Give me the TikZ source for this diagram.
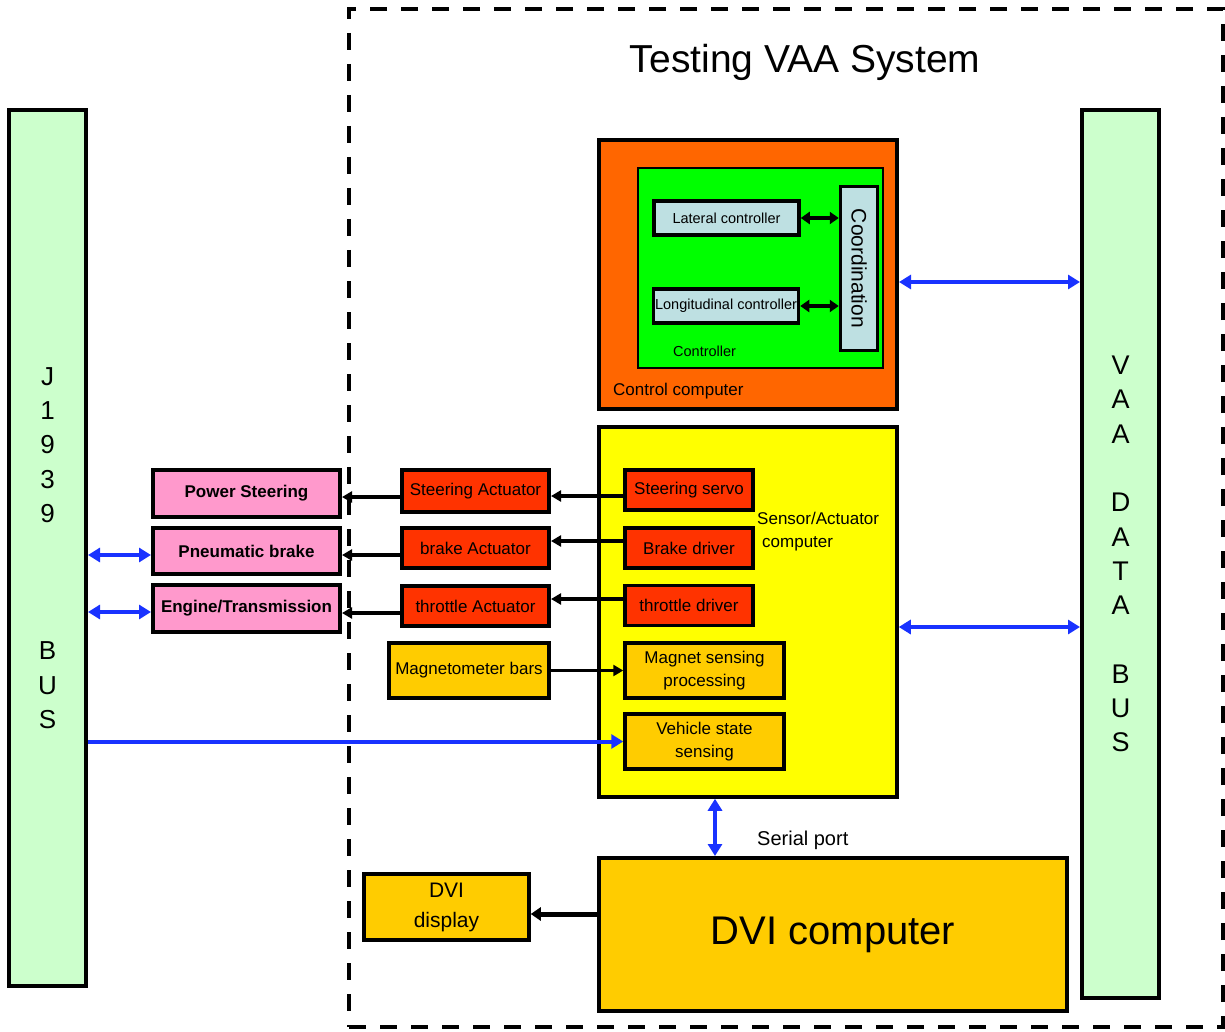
\documentclass[tikz,border=0pt]{standalone}
\usepackage{fontspec}
\setmainfont{Liberation Sans}
\usetikzlibrary{arrows.meta}

\definecolor{busgreen}{RGB}{204,255,204}
\definecolor{ccorange}{RGB}{255,102,0}
\definecolor{ctlgreen}{RGB}{0,255,0}
\definecolor{ctlblue}{RGB}{190,224,226}
\definecolor{sayellow}{RGB}{255,255,0}
\definecolor{drvred}{RGB}{255,51,0}
\definecolor{goldbox}{RGB}{255,204,0}
\definecolor{pinkbox}{RGB}{255,153,204}
\definecolor{linkblue}{RGB}{25,50,255}

\newcommand\fsz[2]{\fontsize{#1}{#2}\selectfont}

\begin{document}
\begin{tikzpicture}[x=1pt,y=-1pt,
  cbox/.style={draw=black, line width=4pt, inner sep=0pt, align=center},
  lbl/.style={inner sep=0pt},
  barr/.style={draw=black, line width=3.5pt, -{Triangle[length=10pt,width=11pt]}},
  dblarr/.style={draw=black, line width=3.5pt, {Triangle[length=9pt,width=12pt]}-{Triangle[length=9pt,width=12pt]}},
  bluedbl/.style={draw=linkblue, line width=4pt, {Triangle[length=12pt,width=14pt]}-{Triangle[length=12pt,width=14pt]}},
  bluesgl/.style={draw=linkblue, line width=4pt, -{Triangle[length=12pt,width=14pt]}},
]
\useasboundingbox (0,0) rectangle (1225,1032);

% system boundary
\node[draw=black, line width=4pt, dash pattern=on 17pt off 14pt, inner sep=0pt,
      minimum width=874pt, minimum height=1018pt] (sysframe) at (786,518) {};
\node[lbl, font=\fsz{39}{44}, anchor=base] (title) at (805,73) {Testing VAA System};

% buses
\node[cbox, fill=busgreen, minimum width=77pt, minimum height=876pt, font=\fsz{26}{34.3}]
  (jbus) at (47.5,548) {J\\1\\9\\3\\9\\[102.9pt]B\\U\\S};
\node[cbox, fill=busgreen, minimum width=77pt, minimum height=888pt, font=\fsz{27}{34.3}]
  (vaa) at (1120.5,554) {V\\A\\A\\[34.3pt]D\\A\\T\\A\\[34.3pt]B\\U\\S};

% control computer
\node[cbox, fill=ccorange, minimum width=298pt, minimum height=269pt] (ctrl) at (748,274.5) {};
\node[cbox, fill=ctlgreen, line width=1.5pt, minimum width=245pt, minimum height=200pt] (ctlr) at (760.5,268) {};
\node[cbox, fill=ctlblue, line width=3.5pt, minimum width=145pt, minimum height=34pt, font=\fsz{14.5}{17}]
  (lat) at (726.5,218) {Lateral controller};
\node[cbox, fill=ctlblue, line width=3.5pt, minimum width=145pt, minimum height=34pt, font=\fsz{14.5}{17}]
  (lon) at (726,306) {Longitudinal controller};
\node[cbox, fill=ctlblue, line width=3.5pt, rotate=-90, minimum width=164pt, minimum height=37pt, font=\fsz{21}{24}]
  (coord) at (859,268.5) {Coordination};
\node[lbl, font=\fsz{17}{20}, anchor=base west] (ctrllbl) at (613,395) {Control computer};
\node[lbl, font=\fsz{14.5}{17}, anchor=base west] (ctlrlbl) at (673,356) {Controller};

% sensor / actuator computer
\node[cbox, fill=sayellow, line width=3.5pt, minimum width=298pt, minimum height=370pt] (sens) at (748,612) {};
\node[lbl, font=\fsz{17}{23}, align=left, anchor=north west] (senslbl) at (757,511.5)
  {Sensor/Actuator\\\hspace{5pt}computer};
\node[cbox, fill=drvred, line width=3.5pt, minimum width=128pt, minimum height=40pt, font=\fsz{17}{20}]
  (servo) at (689,490) {Steering servo};
\node[cbox, fill=drvred, line width=3.5pt, minimum width=128pt, minimum height=40pt, font=\fsz{17}{20}]
  (bdrv) at (689,548) {Brake driver};
\node[cbox, fill=drvred, line width=3.5pt, minimum width=128pt, minimum height=40pt, font=\fsz{17}{20}]
  (tdrv) at (689,605.5) {throttle driver};
\node[cbox, fill=goldbox, line width=3.5pt, minimum width=159pt, minimum height=55pt, font=\fsz{17}{23.5}]
  (ms) at (704.5,670.5) {Magnet sensing\\processing};
\node[cbox, fill=goldbox, line width=3.5pt, minimum width=159pt, minimum height=55pt, font=\fsz{17}{23.5}]
  (vs) at (704.5,741.5) {Vehicle state\\sensing};

% actuators and sensors outside the computer
\node[cbox, fill=drvred, minimum width=147pt, minimum height=42pt, font=\fsz{17}{20}]
  (sact) at (475.5,491) {Steering Actuator};
\node[cbox, fill=drvred, minimum width=147pt, minimum height=40pt, font=\fsz{17}{20}]
  (bact) at (475.5,548) {brake Actuator};
\node[cbox, fill=drvred, minimum width=147pt, minimum height=40pt, font=\fsz{17}{20}]
  (tact) at (475.5,606) {throttle Actuator};
\node[cbox, fill=goldbox, minimum width=160pt, minimum height=55pt, font=\fsz{17}{20}]
  (mb) at (469,670.5) {Magnetometer bars};

% vehicle subsystems
\node[cbox, fill=pinkbox, minimum width=187pt, minimum height=47pt, font=\fsz{17}{20}\bfseries]
  (ps) at (246.5,493.5) {Power Steering};
\node[cbox, fill=pinkbox, minimum width=187pt, minimum height=46pt, font=\fsz{17}{20}\bfseries]
  (pb) at (246.5,551) {Pneumatic brake};
\node[cbox, fill=pinkbox, minimum width=187pt, minimum height=47pt, font=\fsz{17}{20}\bfseries]
  (et) at (246.5,608.5) {Engine/Transmission};

% DVI
\node[cbox, fill=goldbox, minimum width=468pt, minimum height=153pt, font=\fsz{40}{44}]
  (dvic) at (833,934.5) {DVI computer};
\node[cbox, fill=goldbox, line width=3.5pt, minimum width=165pt, minimum height=66pt, font=\fsz{21}{30}]
  (dvid) at (446.5,907) {DVI\\display};
\node[lbl, font=\fsz{20}{24}, anchor=base west] (serlbl) at (757,845) {Serial port};

% controller links
\draw[dblarr] (lat.east) -- (lat.east -| coord.south);
\draw[dblarr] (lon.east) -- (lon.east -| coord.south);

% drivers to actuators to vehicle
\draw[barr] ([yshift=-6pt]servo.west) -- ([yshift=-6pt]servo.west -| sact.east);
\draw[barr] ([yshift=7pt]bdrv.west) -- ([yshift=7pt]bdrv.west -| bact.east);
\draw[barr] ([yshift=6.5pt]tdrv.west) -- ([yshift=6.5pt]tdrv.west -| tact.east);
\draw[barr] ([yshift=-6pt]sact.west) -- ([yshift=-6pt]sact.west -| ps.east);
\draw[barr] ([yshift=-7pt]bact.west) -- ([yshift=-7pt]bact.west -| pb.east);
\draw[barr] ([yshift=-7pt]tact.west) -- ([yshift=-7pt]tact.west -| et.east);
\draw[barr] (mb.east) -- (mb.east -| ms.west);

% bus links
\draw[bluedbl] ([yshift=-4pt]pb.west -| jbus.east) -- ([yshift=-4pt]pb.west);
\draw[bluedbl] ([yshift=-3.5pt]et.west -| jbus.east) -- ([yshift=-3.5pt]et.west);
\draw[bluesgl] (vs.west -| jbus.east) -- (vs.west);
\draw[bluedbl] ([yshift=-7.5pt]ctrl.east) -- ([yshift=-7.5pt]ctrl.east -| vaa.west);
\draw[bluedbl] ([yshift=-15pt]sens.east) -- ([yshift=-15pt]sens.east -| vaa.west);
\draw[bluedbl] ([xshift=-33pt]sens.south) -- ([xshift=-33pt]sens.south |- dvic.north);

% display output
\draw[draw=black, line width=5pt, -{Triangle[length=10pt,width=13pt]}]
  ([yshift=20.5pt]dvic.west) -- ([yshift=20.5pt]dvic.west -| dvid.east);
\end{tikzpicture}
\end{document}
